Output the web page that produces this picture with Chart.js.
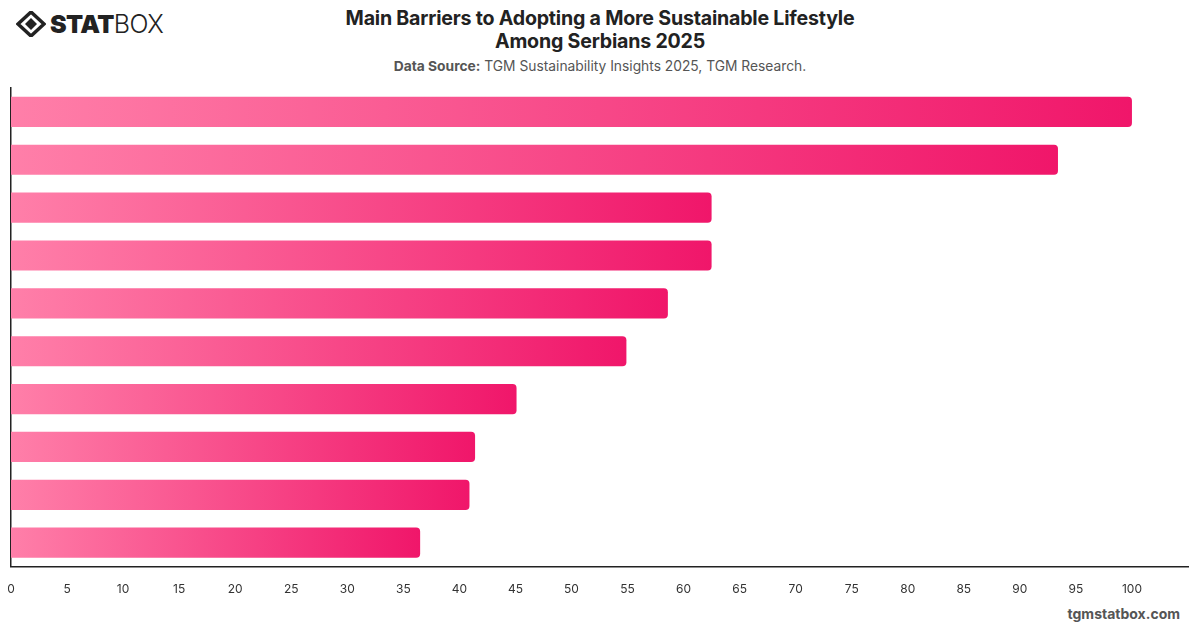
<!DOCTYPE html>
<html>
<head>
<meta charset="utf-8">
<script src="https://cdn.jsdelivr.net/npm/chart.js@4"></script>
<style>
  html, body { margin: 0; padding: 0; background: #fff; }
  body { width: 1200px; height: 628px; position: relative; overflow: hidden; font-family: Inter, "Noto Sans", sans-serif; }
  #logo { position: absolute; left: 16px; top: 9px; display: flex; align-items: center; color: #222; }
  #logo .txt { font-size: 25px; letter-spacing: -0.6px; margin-left: 4px; }
  #logo .txt b { font-weight: 900; }
  #logo .txt span { font-weight: 300; }
  #title { position: absolute; left: 0; width: 1200px; top: 7px; text-align: center; font-size: 19.6px; font-weight: 700; color: #222; line-height: 23px; letter-spacing: -0.2px; }
  #source { position: absolute; left: 0; width: 1200px; top: 58px; text-align: center; font-size: 13.8px; color: #555; }
  #source b { font-weight: 700; }
  #footer { position: absolute; right: 20px; top: 605px; font-size: 14px; font-weight: 700; color: #555; }
  #wrap { position: absolute; left: 0; top: 0; width: 1200px; height: 628px; }
</style>
</head>
<body>
<div id="logo">
  <svg width="30" height="26" viewBox="0 0 30 26">
    <polygon points="15,1 28,13 15,25 2,13" fill="none" stroke="#222" stroke-width="3.5"/>
    <polygon points="15,7 21,13 15,19 9,13" fill="#222"/>
  </svg>
  <div class="txt"><b>STAT</b><span>BOX</span></div>
</div>
<div id="title">Main Barriers to Adopting a More Sustainable Lifestyle<br>Among Serbians 2025</div>
<div id="source"><b>Data Source:</b> TGM Sustainability Insights 2025, TGM Research.</div>
<div id="footer">tgmstatbox.com</div>
<div id="wrap"><canvas id="chart"></canvas></div>

<script>
// Category labels are hidden in the chart
const categories = ["Barrier 1", "Barrier 2", "Barrier 3", "Barrier 4", "Barrier 5",
                    "Barrier 6", "Barrier 7", "Barrier 8", "Barrier 9", "Barrier 10"];
const values = [100, 93.4, 62.5, 62.5, 58.6, 54.9, 45.1, 41.4, 40.9, 36.5];
const xTicks = [0, 5, 10, 15, 20, 25, 30, 35, 40, 45, 50, 55, 60, 65, 70, 75, 80, 85, 90, 95, 100];

// Gradient per bar, from its base to its end
function barGradient(context) {
  const chart = context.chart;
  const area = chart.chartArea;
  if (!area) return "#f5337a";
  const xScale = chart.scales.x;
  const x0 = xScale.getPixelForValue(0);
  const x1 = xScale.getPixelForValue(context.raw || 0);
  const g = chart.ctx.createLinearGradient(x0, 0, x1, 0);
  g.addColorStop(0, "#ff7fa9");
  g.addColorStop(1, "#f0166a");
  return g;
}

const ctx = document.getElementById("chart").getContext("2d");
new Chart(ctx, {
  type: "bar",
  data: {
    labels: categories,
    datasets: [{
      data: values,
      backgroundColor: barGradient,
      borderRadius: { topLeft: 0, bottomLeft: 0, topRight: 4, bottomRight: 4 },
      borderSkipped: false,
      barPercentage: 0.63,
      categoryPercentage: 1,
    }],
  },
  options: {
    indexAxis: "y",
    responsive: true,
    maintainAspectRatio: false,
    animation: false,
    layout: { padding: { top: 88, left: 11, right: 12, bottom: 29 } },
    plugins: {
      legend: { display: false },
      tooltip: { enabled: false },
    },
    scales: {
      x: {
        min: 0,
        max: 105,
        afterBuildTicks: (axis) => {
          axis.ticks = xTicks.map((v) => ({ value: v }));
        },
        // tick marks are invisible, they only push the labels down
        grid: { display: false, drawTicks: true, tickLength: 14, tickColor: "rgba(0,0,0,0)" },
        border: { display: true, color: "#222", width: 1.5 },
        ticks: {
          padding: 2,
          color: "#333",
          font: { family: "Inter", size: 12 },
        },
      },
      y: {
        afterFit: (axis) => {
          axis.width = 0;
        },
        grid: { display: false, drawTicks: false },
        border: { display: true, color: "#222", width: 1.5 },
        ticks: { display: false },
      },
    },
  },
});
</script>
</body>
</html>
